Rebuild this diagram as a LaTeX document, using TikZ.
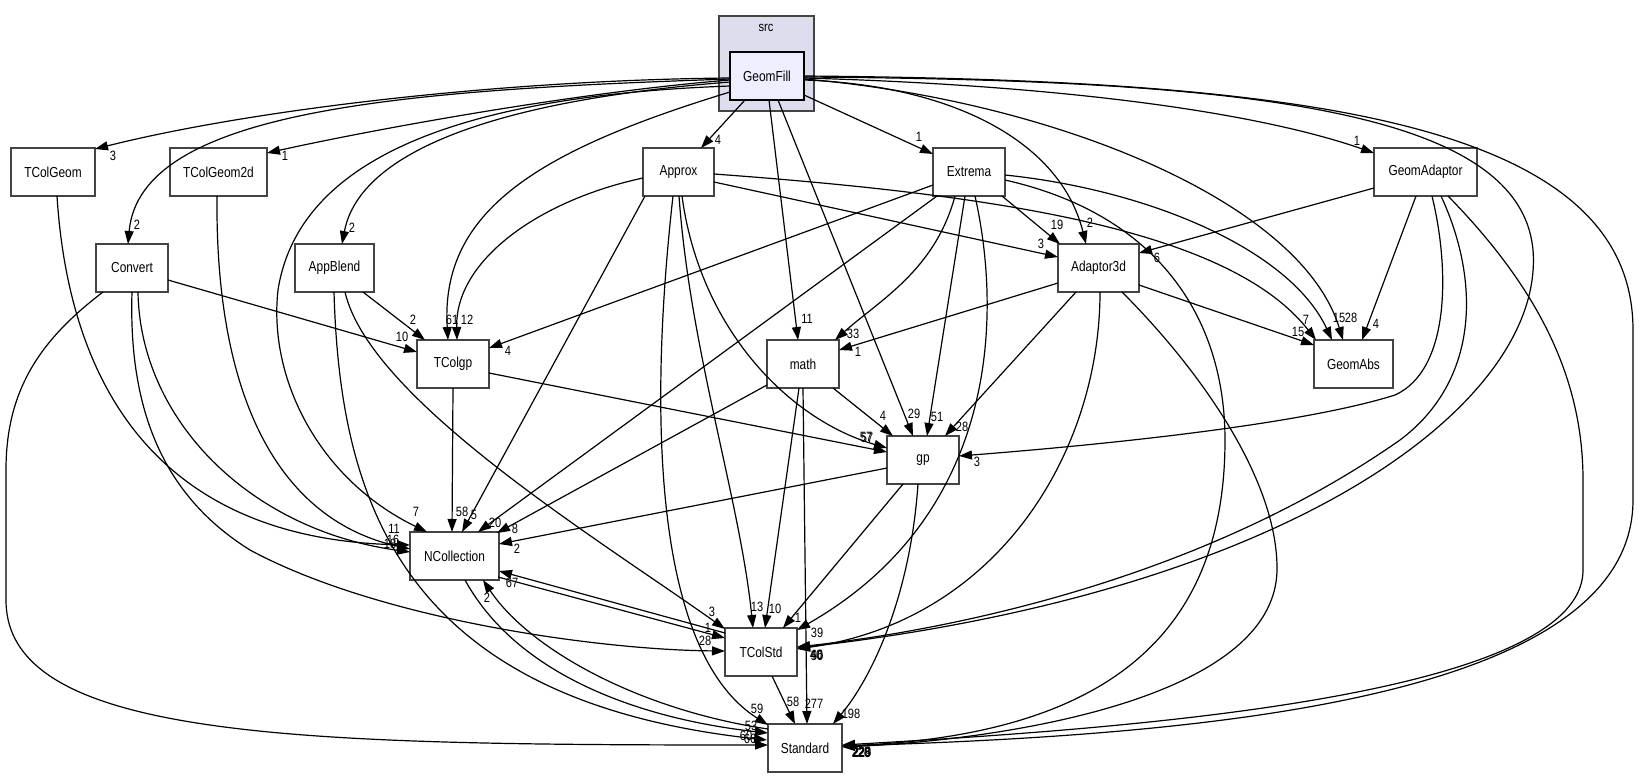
\documentclass[tikz,border=0pt]{standalone}
\usepackage{fontspec}
\setmainfont{Liberation Sans}
\newfontfamily\nodefont[FakeStretch=0.82]{Liberation Sans}
\usetikzlibrary{arrows.meta,calc}
\definecolor{clusterfill}{HTML}{DDDDEE}
\definecolor{focusfill}{HTML}{EEEEFF}
\definecolor{boxline}{HTML}{444444}
\begin{document}
\begin{tikzpicture}[x=1pt,y=-1pt,
  box/.style={draw=boxline, line width=1.6pt, fill=white, minimum height=48pt, inner sep=0pt, font=\nodefont\fontsize{14.5}{16}\selectfont},
  e/.style={line width=1.2pt, -{Triangle[length=13pt,width=9pt]}},
  lab/.style={inner sep=0pt, font=\nodefont\fontsize{13.5}{15}\selectfont}]
\fill[white] (0,0) rectangle (1639,777);
\useasboundingbox (0,0) rectangle (1639,777);
% cluster
\node[box, minimum width=95pt, minimum height=95pt, fill=clusterfill] (src) at (766.5,63.5) {};
\node[lab] (srclabel) at (766,28) {src};
% nodes
\node[box, minimum width=74pt, fill=focusfill, draw=black] (GeomFill) at (767,76) {GeomFill};
\node[box, minimum width=84pt] (TColGeom) at (53,172) {TColGeom};
\node[box, minimum width=97pt] (TColGeom2d) at (218.5,172) {TColGeom2d};
\node[box, minimum width=71pt] (Approx) at (678.5,172) {Approx};
\node[box, minimum width=72pt] (Extrema) at (969,172) {Extrema};
\node[box, minimum width=103pt] (GeomAdaptor) at (1425.5,172) {GeomAdaptor};
\node[box, minimum width=72pt] (Convert) at (132,268) {Convert};
\node[box, minimum width=79pt] (AppBlend) at (334.5,268) {AppBlend};
\node[box, minimum width=81pt] (Adaptor3d) at (1098.5,268) {Adaptor3d};
\node[box, minimum width=72pt] (TColgp) at (453,364) {TColgp};
\node[box, minimum width=72pt] (math) at (803,364) {math};
\node[box, minimum width=79pt] (GeomAbs) at (1353.5,364) {GeomAbs};
\node[box, minimum width=72pt] (gp) at (923,460) {gp};
\node[box, minimum width=89pt] (NCollection) at (454.5,556) {NCollection};
\node[box, minimum width=72pt] (TColStd) at (761,652) {TColStd};
\node[box, minimum width=74pt] (Standard) at (805,748) {Standard};
% ---- edges from GeomFill
\draw[e] ($(GeomFill)+(-37,2)$) .. controls (500,80) and (250,110) .. ($(TColGeom)+(42,-23)$);
\draw[e] ($(GeomFill)+(-37,4)$) .. controls (580,92) and (380,128) .. ($(TColGeom2d)+(48.5,-19)$);
\draw[e] ($(GeomFill)+(-37,3)$) .. controls (400,90) and (140,110) .. ($(Convert)+(-4,-24)$);
\draw[e] ($(GeomFill)+(-37,6)$) .. controls (500,100) and (360,150) .. ($(AppBlend)+(7.5,-24)$);
\draw[e] ($(GeomFill)+(-37,10)$) .. controls (480,95) and (300,150) .. (278,290) .. controls (268,380) and (320,480) .. ($(NCollection)+(-27.5,-24)$);
\draw[e] ($(GeomFill)+(-37,16)$) .. controls (540,150) and (440,210) .. ($(TColgp)+(-5,-24)$);
\draw[e] ($(GeomFill)+(-22,24)$) -- ($(Approx)+(22.5,-24)$);
\draw[e] ($(GeomFill)+(2,24)$) -- ($(math)+(-5,-24)$);
\draw[e] ($(GeomFill)+(11,24)$) -- ($(gp)+(-10,-24)$);
\draw[e] ($(GeomFill)+(37,19)$) -- ($(Extrema)+(-36,-18)$);
\draw[e] ($(GeomFill)+(37,4)$) .. controls (950,85) and (1060,140) .. ($(Adaptor3d)+(-12.5,-24)$);
\draw[e] ($(GeomFill)+(37,3)$) .. controls (1050,100) and (1300,200) .. ($(GeomAbs)+(-10.5,-24)$);
\draw[e] ($(GeomFill)+(37,2)$) .. controls (1050,85) and (1250,110) .. ($(GeomAdaptor)+(-51.5,-19)$);
\draw[e] ($(GeomFill)+(37,1)$) .. controls (1250,80) and (1520,110) .. (1533,250) .. controls (1545,400) and (1300,590) .. ($(TColStd)+(36,-4)$);
\draw[e] ($(GeomFill)+(37,0)$) .. controls (1300,80) and (1633,120) .. (1633,330) -- (1633,500) .. controls (1633,700) and (1200,735) .. ($(Standard)+(37,-2)$);
% ---- TColGeom, TColGeom2d, Convert, AppBlend
\draw[e] ($(TColGeom)+(4,24)$) .. controls (70,400) and (170,540) .. ($(NCollection)+(-44.5,-11)$);
\draw[e] ($(TColGeom2d)+(-1.5,24)$) .. controls (215,400) and (280,520) .. ($(NCollection)+(-44.5,-7)$);
\draw[e] ($(Convert)+(6,24)$) .. controls (140,420) and (250,530) .. ($(NCollection)+(-44.5,-4)$);
\draw[e] ($(Convert)+(36,12)$) -- ($(TColgp)+(-36,-12)$);
\draw[e] ($(Convert)+(0,24)$) .. controls (128,420) and (170,500) .. (250,550) .. controls (380,620) and (600,650) .. ($(TColStd)+(-36,-1)$);
\draw[e] ($(Convert)+(-29,24)$) .. controls (40,340) and (6,390) .. (6,470) -- (6,600) .. controls (6,740) and (300,745) .. ($(Standard)+(-37,-3)$);
\draw[e] ($(AppBlend)+(28.5,24)$) -- ($(TColgp)+(-28,-24)$);
\draw[e] ($(AppBlend)+(10.5,24)$) .. controls (370,400) and (600,540) .. ($(TColStd)+(-36,-23)$);
\draw[e] ($(AppBlend)+(-0.5,24)$) .. controls (340,500) and (400,700) .. ($(Standard)+(-38,-8)$);
% ---- Approx
\draw[e] ($(Approx)+(-35.5,6)$) .. controls (540,200) and (455,260) .. ($(TColgp)+(4,-24)$);
\draw[e] ($(Approx)+(-33.5,24)$) -- ($(NCollection)+(7.5,-24)$);
\draw[e] ($(Approx)+(-5.5,24)$) .. controls (650,400) and (650,650) .. ($(Standard)+(-37,-23)$);
\draw[e] ($(Approx)+(0.5,24)$) .. controls (690,350) and (740,500) .. ($(TColStd)+(-8,-24)$);
\draw[e] ($(Approx)+(3.5,24)$) .. controls (700,330) and (790,420) .. ($(gp)+(-36,-12)$);
\draw[e] ($(Approx)+(35.5,10)$) -- ($(Adaptor3d)+(-40.5,-11)$);
\draw[e] ($(Approx)+(35.5,2)$) .. controls (1000,195) and (1230,230) .. ($(GeomAbs)+(-37.5,-24)$);
% ---- Extrema
\draw[e] ($(Extrema)+(-36,13)$) -- ($(TColgp)+(36,-16)$);
\draw[e] ($(Extrema)+(-32,24)$) -- ($(NCollection)+(23.5,-24)$);
\draw[e] ($(Extrema)+(-14,24)$) .. controls (935,270) and (880,300) .. ($(math)+(32,-24)$);
\draw[e] ($(Extrema)+(-4,24)$) -- ($(gp)+(4,-24)$);
\draw[e] ($(Extrema)+(6,24)$) .. controls (1005,330) and (990,520) .. ($(TColStd)+(36,-22)$);
\draw[e] ($(Extrema)+(33,24)$) -- ($(Adaptor3d)+(-38.5,-24)$);
\draw[e] ($(Extrema)+(36,3)$) .. controls (1150,190) and (1290,250) .. ($(GeomAbs)+(-21.5,-24)$);
\draw[e] ($(Extrema)+(36,8)$) .. controls (1160,215) and (1225,320) .. (1225,440) .. controls (1225,640) and (1100,735) .. ($(Standard)+(37,-2)$);
% ---- GeomAdaptor
\draw[e] ($(GeomAdaptor)+(-51.5,16)$) -- ($(Adaptor3d)+(40.5,-15)$);
\draw[e] ($(GeomAdaptor)+(-9.5,24)$) -- ($(GeomAbs)+(8.5,-24)$);
\draw[e] ($(GeomAdaptor)+(6.5,24)$) .. controls (1450,270) and (1450,370) .. (1395,395) .. controls (1300,425) and (1100,445) .. ($(gp)+(36,-4)$);
\draw[e] ($(GeomAdaptor)+(15.5,24)$) .. controls (1480,280) and (1480,380) .. (1400,440) .. controls (1200,580) and (950,630) .. ($(TColStd)+(36,-5)$);
\draw[e] ($(GeomAdaptor)+(22.5,24)$) .. controls (1540,290) and (1583,380) .. (1583,480) -- (1583,570) .. controls (1583,700) and (1100,730) .. ($(Standard)+(37,-3)$);
% ---- Adaptor3d
\draw[e] ($(Adaptor3d)+(-40.5,15)$) -- ($(math)+(36,-14)$);
\draw[e] ($(Adaptor3d)+(-22.5,24)$) -- ($(gp)+(22,-24)$);
\draw[e] ($(Adaptor3d)+(40.5,17)$) -- ($(GeomAbs)+(-39.5,-19)$);
\draw[e] ($(Adaptor3d)+(1.5,24)$) .. controls (1100,450) and (1000,620) .. ($(TColStd)+(36,-3)$);
\draw[e] ($(Adaptor3d)+(23.5,24)$) .. controls (1200,370) and (1278,480) .. (1277,570) .. controls (1275,700) and (1000,740) .. ($(Standard)+(37,-1)$);
% ---- TColgp, math, gp
\draw[e] ($(TColgp)+(0,24)$) -- ($(NCollection)+(-2.5,-24)$);
\draw[e] ($(TColgp)+(36,9)$) -- ($(gp)+(-36,-8)$);
\draw[e] ($(math)+(-36,21)$) -- ($(NCollection)+(42.5,-23)$);
\draw[e] ($(math)+(30,24)$) -- ($(gp)+(-30,-24)$);
\draw[e] ($(math)+(-4,24)$) -- ($(TColStd)+(4,-24)$);
\draw[e] ($(math)+(0,24)$) -- ($(Standard)+(2,-24)$);
\draw[e] ($(gp)+(-36,8)$) -- ($(NCollection)+(44.5,-12)$);
\draw[e] ($(gp)+(-20,24)$) -- ($(TColStd)+(22,-24)$);
\draw[e] ($(gp)+(-5,24)$) .. controls (910,600) and (870,680) .. ($(Standard)+(28,-24)$);
% ---- NCollection, TColStd, Standard
\draw[e] ($(NCollection)+(43.5,21)$) -- ($(TColStd)+(-36,-14)$);
\draw[e] ($(NCollection)+(10.5,24)$) .. controls (520,680) and (650,720) .. ($(Standard)+(-37,-15)$);
\draw[e] ($(TColStd)+(-36,-19)$) -- ($(NCollection)+(44.5,15)$);
\draw[e] ($(TColStd)+(11,24)$) -- ($(Standard)+(-10,-24)$);
\draw[e] ($(Standard)+(-37,-19)$) .. controls (640,710) and (530,650) .. ($(NCollection)+(28.5,24)$);
% ---- labels
\node[lab] (l1) at (113,156) {3};
\node[lab] (l2) at (285,156) {1};
\node[lab] (l3) at (137,225) {2};
\node[lab] (l4) at (352,228) {2};
\node[lab] (l5) at (416,512) {7};
\node[lab] (l6) at (452,320) {61};
\node[lab] (l7) at (718,140) {4};
\node[lab] (l8) at (807,319) {11};
\node[lab] (l9) at (914,414) {29};
\node[lab] (l10) at (919,137) {1};
\node[lab] (l11) at (1090,223) {2};
\node[lab] (l12) at (1351,318) {28};
\node[lab] (l13) at (1357,141) {1};
\node[lab] (l14) at (817,656) {50};
\node[lab] (l15) at (862,753) {229};
\node[lab] (l16) at (394,529) {11};
\node[lab] (l17) at (393,540) {16};
\node[lab] (l18) at (390,544) {18};
\node[lab] (l19) at (402,337) {10};
\node[lab] (l20) at (705,641) {28};
\node[lab] (l21) at (746,736) {60};
\node[lab] (l22) at (413,320) {2};
\node[lab] (l23) at (712,612) {3};
\node[lab] (l24) at (750,739) {66};
\node[lab] (l25) at (467,320) {12};
\node[lab] (l26) at (474,515) {5};
\node[lab] (l27) at (757,709) {59};
\node[lab] (l28) at (757,607) {13};
\node[lab] (l29) at (867,438) {57};
\node[lab] (l30) at (1041,244) {3};
\node[lab] (l31) at (1306,320) {7};
\node[lab] (l32) at (508,351) {4};
\node[lab] (l33) at (495,523) {20};
\node[lab] (l34) at (853,334) {33};
\node[lab] (l35) at (937,417) {51};
\node[lab] (l36) at (817,633) {39};
\node[lab] (l37) at (1057,225) {19};
\node[lab] (l38) at (1339,318) {15};
\node[lab] (l39) at (861,752) {228};
\node[lab] (l40) at (1157,258) {6};
\node[lab] (l41) at (1376,324) {4};
\node[lab] (l42) at (977,462) {3};
\node[lab] (l43) at (816,655) {40};
\node[lab] (l44) at (861,753) {226};
\node[lab] (l45) at (858,352) {1};
\node[lab] (l46) at (962,427) {28};
\node[lab] (l47) at (1298,332) {15};
\node[lab] (l48) at (817,655) {46};
\node[lab] (l49) at (862,752) {223};
\node[lab] (l50) at (462,512) {58};
\node[lab] (l51) at (866,437) {57};
\node[lab] (l52) at (515,529) {8};
\node[lab] (l53) at (883,416) {4};
\node[lab] (l54) at (775,609) {10};
\node[lab] (l55) at (814,704) {277};
\node[lab] (l56) at (517,549) {2};
\node[lab] (l57) at (798,618) {1};
\node[lab] (l58) at (851,714) {198};
\node[lab] (l59) at (708,628) {1};
\node[lab] (l60) at (751,726) {53};
\node[lab] (l61) at (512,583) {67};
\node[lab] (l62) at (793,702) {58};
\node[lab] (l63) at (487,598) {2};
\end{tikzpicture}
\end{document}
